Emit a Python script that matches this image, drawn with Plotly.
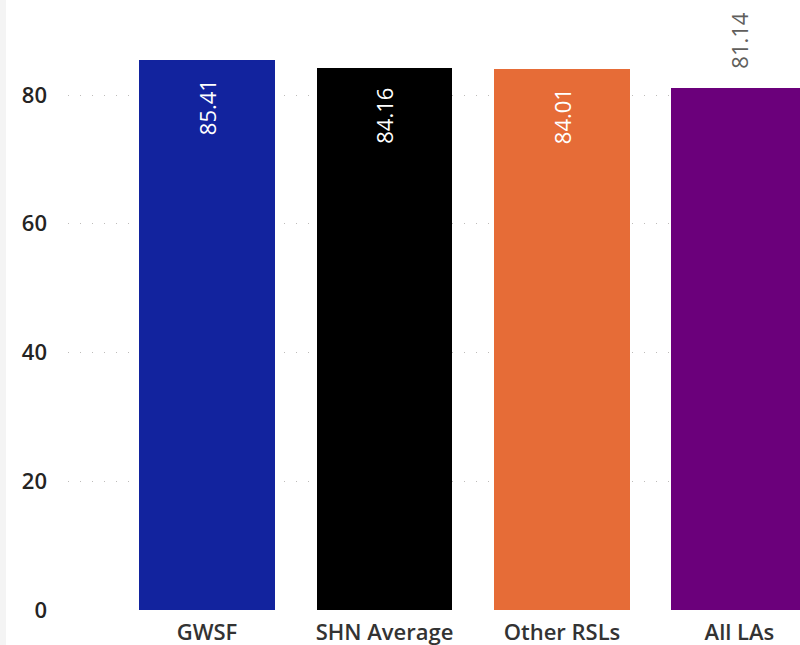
import plotly.graph_objects as go

# Chart data
categories = ["GWSF", "SHN Average", "Other RSLs", "All LAs"]
values = [85.41, 84.16, 84.01, 81.14]
bar_colors = ["#12239E", "#000000", "#E66C37", "#6B007B"]
label_inside = [True, True, True, False]
y_ticks = [0, 20, 40, 60, 80]

W, H = 800, 645
ml, mb = 68, 35
FONT = "Segoe UI, Open Sans, sans-serif"

fig = go.Figure(
    go.Bar(
        x=categories,
        y=values,
        marker=dict(color=bar_colors, line=dict(width=0)),
        width=0.766,
        hoverinfo="skip",
    )
)

# Value labels, rotated; white inside the bar top, grey above the bar otherwise
annotations = []
for cat, val, inside in zip(categories, values, label_inside):
    annotations.append(
        dict(
            x=cat,
            y=val,
            xref="x",
            yref="y",
            text=f"{val:.2f}",
            textangle=-90,
            showarrow=False,
            xanchor="center",
            yanchor="top" if inside else "bottom",
            yshift=-17 if inside else 17,
            font=dict(family=FONT, size=22, color="#FFFFFF" if inside else "#605E5C"),
        )
    )

fig.update_layout(
    width=W,
    height=H,
    margin=dict(l=ml, r=0, t=0, b=mb),
    paper_bgcolor="#FFFFFF",
    plot_bgcolor="#FFFFFF",
    showlegend=False,
    bargap=0,
    annotations=annotations,
    xaxis=dict(
        type="category",
        range=[-0.783, 3.341],
        showgrid=False,
        zeroline=False,
        showline=False,
        ticks="",
        tickfont=dict(family=FONT, size=22, color="#333333", weight=600),
        ticklabelstandoff=7,
    ),
    yaxis=dict(
        range=[0, 94.76],
        tickvals=y_ticks,
        showgrid=True,
        gridcolor="#BEBCBA",
        gridwidth=1.3,
        griddash="1px,11px",
        zeroline=False,
        showline=False,
        ticks="",
        ticklabelstandoff=20,
        tickfont=dict(family=FONT, size=22, color="#252423", weight=600),
    ),
    shapes=[
        dict(
            type="rect",
            xref="paper",
            yref="paper",
            x0=-ml / (W - ml),
            x1=(6 - ml) / (W - ml),
            y0=-mb / (H - mb),
            y1=1,
            fillcolor="#F4F4F4",
            line=dict(width=0),
            layer="below",
        )
    ],
)

fig.write_html("out.html")
